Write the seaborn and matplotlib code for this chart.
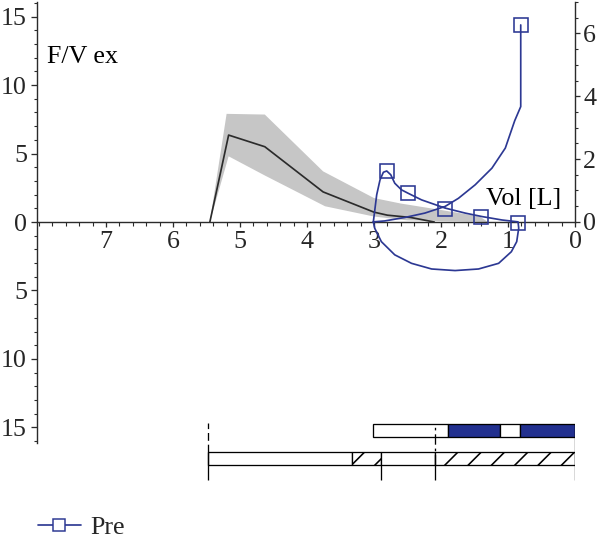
import numpy as np
import pandas as pd
import matplotlib
matplotlib.use("Agg")
import matplotlib.pyplot as plt
from matplotlib.lines import Line2D
from matplotlib.ticker import FixedLocator
import seaborn as sns

# ---------------- data ----------------
# predicted expiratory flow-volume curve (left axis, L/s vs L)
pred_vol = [5.45, 5.17, 4.63, 3.76, 3.00, 2.80, 2.45, 2.10]
pred_flow = [0.0, 6.35, 5.50, 2.20, 0.72, 0.50, 0.33, 0.0]

# predicted normal band
band_hi_vol = [5.45, 5.20, 4.63, 3.76, 3.00, 2.60, 2.00, 1.42, 1.30]
band_hi = [0.0, 7.90, 7.85, 3.70, 1.75, 1.35, 0.88, 0.40, 0.0]
band_lo_vol = [5.45, 5.17, 4.63, 3.73, 3.00, 2.50, 1.30]
band_lo = [0.0, 4.80, 3.40, 1.15, 0.40, 0.12, 0.0]

# measured "Pre" loop (right axis units)
pre_vol = [0.81, 0.81, 0.90, 1.04, 1.24, 1.49, 1.74, 1.94, 2.24, 2.54, 2.84, 3.01,
           2.96, 2.91, 2.86, 2.81, 2.75, 2.69, 2.59, 2.49, 2.29, 1.94, 1.64, 1.39, 1.09, 0.85,
           0.84, 0.87, 0.95, 1.14, 1.44, 1.79, 2.14, 2.44, 2.69, 2.89, 2.99, 3.01]
pre_flow = [6.27, 3.67, 3.22, 2.35, 1.71, 1.18, 0.75, 0.49, 0.28, 0.14, 0.03, 0.0,
            0.86, 1.34, 1.58, 1.62, 1.50, 1.23, 1.02, 0.91, 0.70, 0.44, 0.28, 0.17, 0.06, 0.0,
            -0.20, -0.63, -0.95, -1.32, -1.50, -1.55, -1.50, -1.32, -1.05, -0.63, -0.20, 0.0]
marker_vol = [2.81, 2.50, 1.94, 1.40, 0.85, 0.81]
marker_flow = [1.63, 0.91, 0.41, 0.15, -0.02, 6.27]

# volume compartment bars
top_edges = [3.01, 1.90, 1.12, 0.82, 0.0]
top_filled = [False, True, False, True]
bot_edges = [5.48, 3.33, 2.90, 2.09, 0.0]
bot_hatched = [False, True, False, True]
dashed_mark = 5.48
dashdot_mark = 2.09
solid_mark = 2.90

x_ticks = [0, 1, 2, 3, 4, 5, 6, 7]
left_ticks = [-15, -10, -5, 0, 5, 10, 15]
right_ticks = [0, 2, 4, 6]

# ---------------- style ----------------
DPI = 140
W, H = 600, 538
def px(v):
    return v * 72.0 / DPI

sns.set_style("ticks")
plt.rcParams['font.family'] = ['Liberation Serif', 'DejaVu Serif']
plt.rcParams['hatch.linewidth'] = px(1.6)
FS = px(26)
BLUE = '#2c3893'
BLUE_FILL = '#22308f'
DARK = '#2b2b2b'
GREY = '#c6c6c6'

fig = plt.figure(figsize=(W / DPI, H / DPI), dpi=DPI)
ax = fig.add_axes([37 / W, 1 - 443 / H, (575 - 37) / W, (443 - 2) / H])
ax.set_xlim(8.03, 0)
ax.set_ylim(-16.14, 16.07)

# band + predicted
ax.fill(np.r_[band_hi_vol, band_lo_vol[::-1]], np.r_[band_hi, band_lo[::-1]],
        color=GREY, lw=0, zorder=1)
sns.lineplot(x=pred_vol, y=pred_flow, ax=ax, color=DARK, lw=px(1.7),
             sort=False, estimator=None, zorder=2)

# axes styling
for s in ['top', 'right']:
    ax.spines[s].set_visible(False)
ax.spines['bottom'].set_position(('data', 0))
for s in ['left', 'bottom']:
    ax.spines[s].set_linewidth(px(1.4))
    ax.spines[s].set_color(DARK)
ax.set_xticks(x_ticks)
ax.set_xticklabels([str(t) for t in x_ticks])
ax.xaxis.set_minor_locator(FixedLocator(np.arange(0, 8.01, 0.2)))
ax.set_yticks(left_ticks)
ax.set_yticklabels([str(abs(t)) for t in left_ticks])
ax.yaxis.set_minor_locator(FixedLocator(np.arange(-16, 16.5, 1)))
ax.tick_params(axis='x', which='major', direction='out', length=px(5), width=px(1.3),
               pad=px(4), labelsize=FS, color=DARK)
ax.tick_params(axis='x', which='minor', direction='out', length=px(3.5), width=px(1.1), color=DARK)
ax.tick_params(axis='y', which='major', direction='out', length=px(6), width=px(1.3),
               pad=px(4), labelsize=FS, color=DARK)
ax.tick_params(axis='y', which='minor', direction='out', length=px(3.5), width=px(1.1), color=DARK)
ax.set_xlabel('')
ax.set_ylabel('')

ax.text(7.88, 11.6, "F/V ex", ha='left', va='baseline', fontsize=FS, color='black')
ax.text(0.2, 1.24, "Vol [L]", ha='right', va='baseline', fontsize=FS, color='black')

# right axis with measured loop
ax2 = ax.twinx()
ax2.set_ylim(-7.04, 7.0)
pre_df = pd.DataFrame({'vol': pre_vol, 'flow': pre_flow})
sns.lineplot(data=pre_df, x='vol', y='flow', ax=ax2, color=BLUE, lw=px(1.7),
             sort=False, estimator=None, zorder=3)
ax2.plot(marker_vol, marker_flow, ls='none', marker='s', ms=px(14), mfc='none',
         mec=BLUE, mew=px(1.6), zorder=4)
for s in ['top', 'left', 'bottom']:
    ax2.spines[s].set_visible(False)
ax2.spines['right'].set_bounds(0, 7.0)
ax2.spines['right'].set_linewidth(px(1.4))
ax2.spines['right'].set_color(DARK)
ax2.set_yticks(right_ticks)
ax2.set_yticklabels([str(t) for t in right_ticks])
ax2.yaxis.set_minor_locator(FixedLocator(np.arange(0, 7.01, 0.5)))
ax2.tick_params(axis='y', which='major', direction='out', length=px(5), width=px(1.3),
                pad=px(3), labelsize=FS, color=DARK)
ax2.tick_params(axis='y', which='minor', direction='out', length=px(3), width=px(1.1), color=DARK)
ax2.set_xlabel('')
ax2.set_ylabel('')

# compartment bars
axb = fig.add_axes([37 / W, 1 - 484 / H, (575 - 37) / W, 64 / H], sharex=ax)
axb.set_ylim(0, 64)
axb.axis('off')
TOP_Y, BOT_Y, BAR_H = 53.5, 25.3, 12.5
for i in range(len(top_filled)):
    axb.barh(TOP_Y, top_edges[i] - top_edges[i + 1], left=top_edges[i + 1], height=BAR_H,
             color=BLUE_FILL if top_filled[i] else 'white', edgecolor='black',
             linewidth=px(1.3), zorder=2)
for i in range(len(bot_hatched)):
    axb.barh(BOT_Y, bot_edges[i] - bot_edges[i + 1], left=bot_edges[i + 1], height=BAR_H,
             color='white', edgecolor='black', hatch='//' if bot_hatched[i] else None,
             linewidth=px(1.3), zorder=2)
bar_bot = BOT_Y - BAR_H / 2
bar_top = TOP_Y + BAR_H / 2
axb.vlines(dashed_mark, BOT_Y + BAR_H / 2, bar_top + 1, colors='black', linestyles=(0, (6, 3)),
           lw=px(1.3), zorder=3)
axb.vlines(dashed_mark, 4, BOT_Y + BAR_H / 2, colors='black', lw=px(1.3), zorder=3)
axb.vlines(dashdot_mark, bar_bot, bar_top, colors='black', linestyles=(0, (8, 3, 2, 3)),
           lw=px(1.3), zorder=3)
axb.vlines(dashdot_mark, 4, bar_bot, colors='black', lw=px(1.3), zorder=3)
axb.vlines(solid_mark, 4, bar_bot, colors='black', lw=px(1.3), zorder=3)
axb.vlines(0.0, 4, bar_top, colors='black', lw=px(1.3), zorder=3)

# legend
handle = Line2D([], [], color=BLUE, lw=px(1.7), marker='s', ms=px(12), mfc='white',
                mec=BLUE, mew=px(1.5))
fig.legend([handle], ['Pre'], loc='center left', bbox_to_anchor=(38 / W, 1 - 527 / H),
           frameon=False, borderpad=0, borderaxespad=0, handlelength=1.65,
           handletextpad=0.35, fontsize=FS)

fig.savefig('out.png', dpi=DPI)
